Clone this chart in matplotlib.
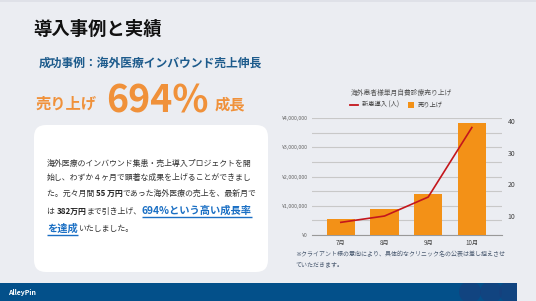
import matplotlib
matplotlib.use('Agg')
import matplotlib.pyplot as plt
from matplotlib.patches import FancyBboxPatch, Rectangle, Circle
from matplotlib.ticker import FuncFormatter, MultipleLocator

plt.rcParams['font.family'] = ['Noto Sans CJK JP', 'DejaVu Sans']

# data
months = ['7月', '8月', '9月', '10月']
sales = [550000, 900000, 1390000, 3820000]
patients = [8, 10, 16, 38]
sales_ticks = [0, 1000000, 2000000, 3000000, 4000000]
patient_ticks = [10, 20, 30, 40]

W, H = 536, 301
ORANGE = '#f0913a'
BAR = '#f39117'
RED = '#c4161c'
BLUE = '#1d5b8c'
LINK = '#1a6fc4'

fig = plt.figure(figsize=(W / 100, H / 100), dpi=100)
fig.patch.set_facecolor('#ebedf2')

# full-figure pixel canvas for the slide elements
bg = fig.add_axes([0, 0, 1, 1])
bg.set_xlim(0, W)
bg.set_ylim(H, 0)
bg.axis('off')

bg.add_patch(Rectangle((0, 0), W, 2, color='#dfe1e8', lw=0))

bg.text(33, 29, '導入事例と実績', fontsize=13.2, fontweight='bold', color='#111111', va='center')
bg.text(39, 63, '成功事例：海外医療インバウンド売上伸長', fontsize=8.5, fontweight='bold', color=BLUE, va='center')

bg.text(36, 104, '売り上げ', fontsize=11, fontweight='bold', color=ORANGE, va='center')
bg.text(106, 101, '694%', fontsize=27, fontweight='bold', color=ORANGE, va='center')
bg.text(215, 104, '成長', fontsize=11, fontweight='bold', color=ORANGE, va='center')

# white card
bg.add_patch(FancyBboxPatch((44, 135), 214, 127, boxstyle='round,pad=10,rounding_size=12',
                            fc='white', ec='none'))

renderer = fig.canvas.get_renderer()


def put_line(x, y, segs):
    for s, kw in segs:
        ul = kw.pop('underline', False)
        t = bg.text(x, y, s, va='center', ha='left', **kw)
        w = t.get_window_extent(renderer).width
        if ul:
            bg.plot([x, x + w], [ul, ul], color=kw.get('color', 'k'), lw=1, solid_capstyle='butt')
        x += w


base = dict(fontsize=5.7, color='#333333')
bold = dict(fontsize=5.7, color='#222222', fontweight='bold')
link = dict(fontsize=7.4, color=LINK, fontweight='bold')

put_line(47, 163, [('海外医療のインバウンド集患・売上導入プロジェクトを開', dict(base))])
put_line(47, 177, [('始し、わずか４ヶ月で顕著な成果を上げることができまし', dict(base))])
put_line(47, 193, [('た。元々月間 ', dict(base)), ('55 万円', dict(bold)),
                   ('であった海外医療の売上を、最新月で', dict(base))])
put_line(47, 211, [('は ', dict(base)), ('382万円', dict(bold)), ('まで引き上げ、', dict(base)),
                   ('694%という高い成長率', dict(link, underline=217))])
put_line(47, 229, [('を達成', dict(link, underline=235)), ('いたしました。', dict(base))])

# chart title and legend
bg.text(401, 93, '海外患者様単月自費診療売り上げ', fontsize=4.9, color='#555555', ha='center', va='center')
bg.plot([350, 358], [105, 105], color=RED, lw=1.3)
bg.text(362, 105, '新患導入 (人)', fontsize=4.5, color='#444444', va='center')
bg.add_patch(Rectangle((408, 102), 6, 6, color=BAR, lw=0))
bg.text(418, 105, '売り上げ', fontsize=4.5, color='#444444', va='center')

# footnote
note = dict(fontsize=4.3, color='#4a5a70', va='center')
bg.text(295, 254, '※クライアント様の意向により、具体的なクリニック名の公表は差し控えさせ', **note)
bg.text(295, 264, 'ていただきます。', **note)

# footer bar
bar_rect = Rectangle((0, 283), 517, 18, color='#03508a', lw=0)
bg.add_patch(bar_rect)
for cx in [470, 491, 510]:
    c = Circle((cx, 292), 11, color='#173f7c', lw=0, alpha=0.7)
    bg.add_patch(c)
    c.set_clip_path(bar_rect)
bg.text(8, 292, 'AlleyPin', fontsize=5, color='white', fontweight='bold', va='center')

# chart
ax = fig.add_axes([312 / W, (H - 235) / H, 190 / W, 117 / H])
ax.set_facecolor('none')
x = range(len(months))
ax.bar(x, sales, width=0.65, color=BAR, zorder=3)
ax.set_ylim(0, 4000000)
ax.set_xlim(-0.66, 3.69)
ax.set_yticks(sales_ticks)
ax.yaxis.set_minor_locator(MultipleLocator(500000))
ax.yaxis.set_major_formatter(FuncFormatter(lambda v, p: '¥{:,.0f}'.format(v)))
ax.grid(axis='y', which='both', color='#c8c8c8', lw=0.8, zorder=0)
ax.set_xticks(list(x))
ax.set_xticklabels(months)
ax.tick_params(axis='y', which='both', length=0, labelsize=3.8, labelcolor='#666666', pad=3)
ax.tick_params(axis='x', length=0, labelsize=4.5, labelcolor='#444444', pad=3)
for s in ['top', 'right', 'left']:
    ax.spines[s].set_visible(False)
ax.spines['bottom'].set_color('#999999')
ax.spines['bottom'].set_linewidth(0.8)

ax2 = ax.twinx()
ax2.plot(list(x), patients, color=RED, lw=1.2, zorder=4)
ax2.set_ylim(4, 41)
ax2.set_yticks(patient_ticks)
ax2.tick_params(axis='y', length=0, labelsize=5, labelcolor='#444444', pad=4)
for s in ax2.spines.values():
    s.set_visible(False)

fig.savefig('out.png', dpi=100, facecolor=fig.get_facecolor())
